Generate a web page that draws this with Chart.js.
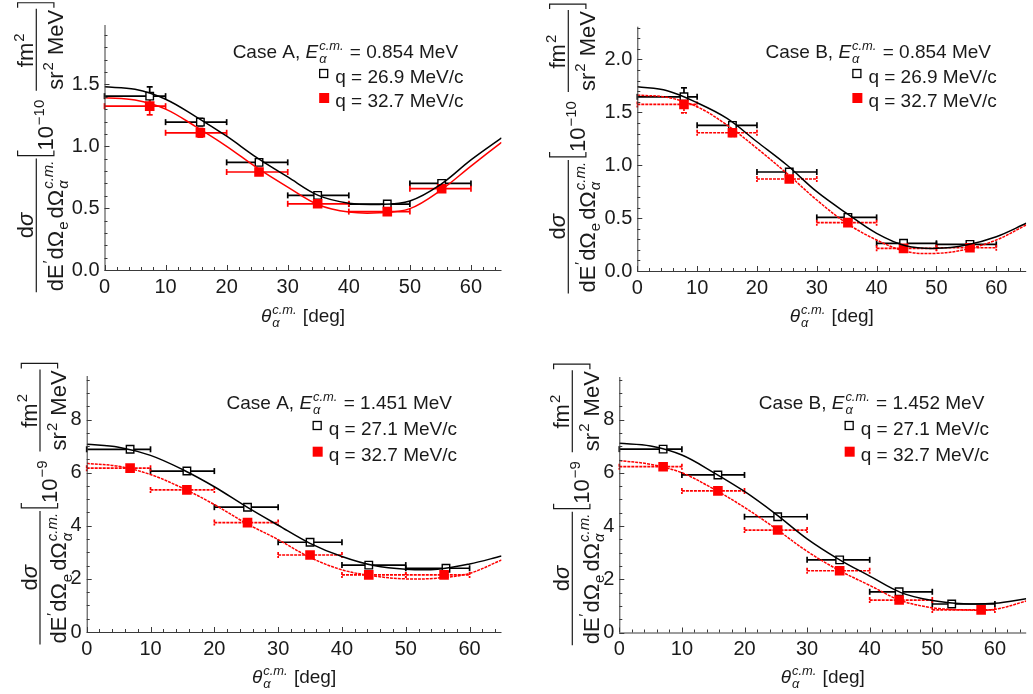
<!DOCTYPE html>
<html>
<head>
<meta charset="utf-8">
<script src="https://cdn.jsdelivr.net/npm/chart.js@4.4.0/dist/chart.umd.min.js"></script>
<style>
html, body { margin: 0; padding: 0; background: #fff; }
#wrap { position: relative; width: 1033px; height: 694px; overflow: hidden; }
canvas { position: absolute; }
</style>
</head>
<body>
<div id="wrap">
  <canvas id="c1" width="516" height="338" style="left:0;top:0"></canvas>
  <canvas id="c2" width="517" height="338" style="left:516px;top:0"></canvas>
  <canvas id="c3" width="516" height="354" style="left:0;top:340px"></canvas>
  <canvas id="c4" width="517" height="354" style="left:516px;top:340px"></canvas>
</div>
<script>
// ---- data ----
const binEdges = [0, 10, 20, 30, 40, 50, 60];
const curveTheta = [0, 5, 10, 15, 20, 25, 30, 35, 40, 45, 50, 55, 60, 65];

// Case A, E = 0.854 MeV  (units 1e-10)
const a854BlackTheta = [7.4, 15.7, 25.3, 34.9, 46.3, 55.2];
const a854BlackVal   = [1.405, 1.195, 0.870, 0.603, 0.533, 0.700];
const a854BlackErr   = [0.075, 0.03, 0.02, 0.02, 0.02, 0.02];
const a854RedTheta   = [7.4, 15.7, 25.3, 34.9, 46.3, 55.2];
const a854RedVal     = [1.324, 1.109, 0.792, 0.535, 0.472, 0.657];
const a854RedErr     = [0.07, 0.035, 0.02, 0.02, 0.02, 0.02];
const a854BlackCurve = [1.48, 1.46, 1.38, 1.238, 1.081, 0.906, 0.752, 0.603, 0.54, 0.53, 0.558, 0.69, 0.89, 1.068];
const a854RedCurve   = [1.392, 1.373, 1.30, 1.157, 1.0, 0.825, 0.67, 0.527, 0.468, 0.462, 0.496, 0.643, 0.84, 1.032];

// Case B, E = 0.854 MeV  (units 1e-10)
const b854BlackTheta = [7.8, 15.9, 25.4, 35.2, 44.5, 55.6];
const b854BlackVal   = [1.647, 1.377, 0.936, 0.507, 0.262, 0.252];
const b854BlackErr   = [0.085, 0.03, 0.02, 0.02, 0.02, 0.02];
const b854RedTheta   = [7.8, 15.9, 25.4, 35.2, 44.5, 55.6];
const b854RedVal     = [1.575, 1.307, 0.870, 0.457, 0.214, 0.220];
const b854RedErr     = [0.08, 0.035, 0.02, 0.02, 0.02, 0.02];
const b854BlackCurve = [1.742, 1.704, 1.591, 1.443, 1.222, 1.002, 0.75, 0.545, 0.356, 0.236, 0.214, 0.246, 0.324, 0.451];
const b854RedCurve   = [1.663, 1.642, 1.553, 1.38, 1.16, 0.923, 0.671, 0.451, 0.293, 0.183, 0.167, 0.205, 0.293, 0.435];

// Case A, E = 1.451 MeV  (units 1e-9)
const a1451BlackTheta = [6.8, 15.7, 25.2, 35.0, 44.2, 56.3];
const a1451BlackVal   = [6.88, 6.06, 4.70, 3.38, 2.52, 2.40];
const a1451BlackErr   = [0.06, 0.06, 0.06, 0.06, 0.06, 0.06];
const a1451RedTheta   = [6.8, 15.7, 25.2, 35.0, 44.2, 56.0];
const a1451RedVal     = [6.17, 5.35, 4.12, 2.90, 2.15, 2.15];
const a1451RedErr     = [0.06, 0.06, 0.06, 0.06, 0.06, 0.06];
const a1451BlackCurve = [7.07, 6.96, 6.65, 6.12, 5.47, 4.72, 4.02, 3.34, 2.84, 2.50, 2.36, 2.36, 2.56, 2.86];
const a1451RedCurve   = [6.35, 6.24, 5.93, 5.42, 4.80, 4.09, 3.48, 2.81, 2.34, 2.11, 2.0, 2.03, 2.21, 2.71];

// Case B, E = 1.452 MeV  (units 1e-9)
const b1452BlackTheta = [7.0, 15.75, 25.3, 35.2, 44.7, 53.1];
const b1452BlackVal   = [6.89, 5.92, 4.35, 2.73, 1.53, 1.07];
const b1452BlackErr   = [0.06, 0.06, 0.06, 0.06, 0.06, 0.06];
const b1452RedTheta   = [7.0, 15.75, 25.3, 35.2, 44.7, 57.8];
const b1452RedVal     = [6.23, 5.32, 3.85, 2.32, 1.22, 0.85];
const b1452RedErr     = [0.06, 0.06, 0.06, 0.06, 0.06, 0.06];
const b1452BlackCurve = [7.11, 7.01, 6.67, 6.02, 5.30, 4.45, 3.52, 2.76, 2.12, 1.50, 1.20, 1.08, 1.10, 1.27];
const b1452RedCurve   = [6.46, 6.32, 6.0, 5.40, 4.70, 3.90, 3.05, 2.35, 1.77, 1.20, 0.93, 0.85, 0.87, 1.18];

const caseNames  = ['Case A', 'Case B', 'Case A', 'Case B'];
const energies   = ['0.854', '0.854', '1.451', '1.452'];
const qBlack     = ['26.9', '26.9', '27.1', '27.1'];
const qRed       = ['32.7', '32.7', '32.7', '32.7'];
const exponents  = ['10', '10', '9', '9'];

// ---- drawing helpers ----
const FONT = "'Liberation Sans', Arial, sans-serif";
const TEXT = '#1a1a1a';
const RED = '#ff0000';

// draws a row of rich text parts, returns its width
function rich(ctx, parts, x, y, s, draw) {
    let cx = x;
    for (const p of parts) {
        if (typeof p === 'string' || p.t) {
            const t = typeof p === 'string' ? p : p.t;
            ctx.font = (p.it ? 'italic ' : '') + s + 'px ' + FONT;
            if (draw) ctx.fillText(t, cx, y);
            cx += ctx.measureText(t).width;
        } else if (p.gap) {
            cx += p.gap;
        } else {
            const ss = s * 0.68;
            let w = 0;
            if (p.sup) {
                ctx.font = (p.supIt ? 'italic ' : '') + ss + 'px ' + FONT;
                if (draw) ctx.fillText(p.sup, cx + 1, y - s * 0.42);
                w = Math.max(w, ctx.measureText(p.sup).width);
            }
            if (p.sub) {
                ctx.font = (p.subIt ? 'italic ' : '') + ss + 'px ' + FONT;
                if (draw) ctx.fillText(p.sub, cx + 1, y + s * 0.24);
                w = Math.max(w, ctx.measureText(p.sub).width);
            }
            cx += w + 2;
        }
    }
    return cx - x;
}

function seg(ctx, x1, y1, x2, y2) {
    ctx.beginPath();
    ctx.moveTo(x1, y1);
    ctx.lineTo(x2, y2);
    ctx.stroke();
}

function drawYTitle(ctx, area, p) {
    const s = 22;
    const num = ['d', { t: 'σ', it: 1 }];
    const den = ['dE', { sup: '′' }, 'dΩ', { sub: 'e' }, { gap: 2 }, 'dΩ', { sub: 'α', subIt: 1, sup: 'c.m.', supIt: 1 }];
    const pow = ['10', { sup: '−' + p.exp }];
    const un = ['fm', { sup: '2' }];
    const ud = ['sr', { sup: '2' }, ' MeV'];
    const wn = rich(ctx, num, 0, 0, s, false), wd = rich(ctx, den, 0, 0, s, false);
    const wun = rich(ctx, un, 0, 0, s, false), wud = rich(ctx, ud, 0, 0, s, false);
    const wp = rich(ctx, pow, 0, 0, s, false);
    const f1 = Math.max(wn, wd) + 2;
    const f2 = Math.max(wun, wud) + 2;
    const total = f1 + 3 + 5 + wp + 8 + f2 + 1 + 5;
    const cy = (area.top + area.bottom) / 2;

    ctx.save();
    ctx.translate(p.ytX, cy + total / 2);
    ctx.rotate(-Math.PI / 2);
    ctx.fillStyle = TEXT;
    ctx.strokeStyle = TEXT;
    ctx.lineWidth = 1.2;
    const vb = 0.15 * s, vd = 1.35 * s, bt = -0.7 * s, bb = 0.95 * s;
    let u = 0;
    rich(ctx, num, u + (f1 - wn) / 2, 0, s, true);
    rich(ctx, den, u + (f1 - wd) / 2, vd, s, true);
    seg(ctx, u, vb, u + f1, vb);
    u += f1 + 3;
    ctx.beginPath();
    ctx.moveTo(u + 5, bt); ctx.lineTo(u, bt); ctx.lineTo(u, bb); ctx.lineTo(u + 5, bb);
    ctx.stroke();
    u += 5;
    rich(ctx, pow, u, 0.9 * s, s, true);
    u += wp + 8;
    rich(ctx, un, u + (f2 - wun) / 2, 0, s, true);
    rich(ctx, ud, u + (f2 - wud) / 2, vd, s, true);
    seg(ctx, u, vb, u + f2, vb);
    u += f2 + 1;
    ctx.beginPath();
    ctx.moveTo(u, bt); ctx.lineTo(u + 5, bt); ctx.lineTo(u + 5, bb); ctx.lineTo(u, bb);
    ctx.stroke();
    ctx.restore();
}

function panelPlugin(p) {
    return {
        id: 'panelDecor',
        beforeDatasetsDraw(chart) {
            const ctx = chart.ctx, xs = chart.scales.x, ys = chart.scales.y;
            ctx.save();
            ctx.lineWidth = 1.7;
            for (const set of [p.black, p.red]) {
                ctx.strokeStyle = set.color;
                ctx.setLineDash(set === p.red && p.redDash ? [3, 1] : []);
                set.theta.forEach((t, i) => {
                    const y = ys.getPixelForValue(set.val[i]);
                    const xl = xs.getPixelForValue(binEdges[i]);
                    const xr = xs.getPixelForValue(binEdges[i + 1]);
                    seg(ctx, xl, y, xr, y);
                    seg(ctx, xl, y - 3, xl, y + 3);
                    seg(ctx, xr, y - 3, xr, y + 3);
                    const x = xs.getPixelForValue(t);
                    const yt = ys.getPixelForValue(set.val[i] + set.err[i]);
                    const yb = ys.getPixelForValue(set.val[i] - set.err[i]);
                    seg(ctx, x, yt, x, yb);
                    seg(ctx, x - 3, yt, x + 3, yt);
                    seg(ctx, x - 3, yb, x + 3, yb);
                });
            }
            ctx.restore();
        },
        afterDraw(chart) {
            const ctx = chart.ctx, xs = chart.scales.x, ys = chart.scales.y, a = chart.chartArea;
            ctx.save();
            // axes with inward ticks
            ctx.strokeStyle = '#3a3a3a';
            ctx.lineWidth = 1;
            seg(ctx, a.left, a.bottom + 0.5, a.right, a.bottom + 0.5);
            seg(ctx, a.left + 0.5, a.top, a.left + 0.5, a.bottom);
            for (let d = 0; d <= 65; d += 2) {
                const x = Math.round(xs.getPixelForValue(d)) + 0.5;
                seg(ctx, x, a.bottom, x, a.bottom - (d % 10 === 0 ? 5 : 3));
            }
            const nMinor = Math.floor(p.yMax / p.yMinor + 1e-6);
            const ratio = Math.round(p.yStep / p.yMinor);
            for (let k = 0; k <= nMinor; k++) {
                const y = Math.round(ys.getPixelForValue(k * p.yMinor)) + 0.5;
                seg(ctx, a.left, y, a.left + (k % ratio === 0 ? 5 : 3), y);
            }

            // x title
            ctx.fillStyle = TEXT;
            ctx.textBaseline = 'alphabetic';
            const xt = [{ t: 'θ', it: 1 }, { sub: 'α', subIt: 1, sup: 'c.m.', supIt: 1 }, ' [deg]'];
            const wx = rich(ctx, xt, 0, 0, 19, false);
            rich(ctx, xt, (a.left + a.right) / 2 - wx / 2, p.titleY, 19, true);

            drawYTitle(ctx, a, p);

            // legend
            const l1 = [caseNames[p.i] + ', ', { t: 'E', it: 1 }, { sub: 'α', subIt: 1, sup: 'c.m.', supIt: 1 }, ' = ' + energies[p.i] + ' MeV'];
            const w1 = rich(ctx, l1, 0, 0, 19, false);
            rich(ctx, l1, a.left + p.r1 - w1, p.lb[0], 19, true);
            const l2 = ['q = ' + qBlack[p.i] + ' MeV/c'];
            const l3 = ['q = ' + qRed[p.i] + ' MeV/c'];
            const w2 = Math.max(rich(ctx, l2, 0, 0, 19, false), rich(ctx, l3, 0, 0, 19, false));
            const tx = a.left + p.r2 - w2;
            rich(ctx, l2, tx, p.lb[1], 19, true);
            rich(ctx, l3, tx, p.lb[2], 19, true);
            ctx.strokeStyle = '#000';
            ctx.lineWidth = 1.3;
            ctx.fillStyle = '#fff';
            ctx.fillRect(tx - 15.5, p.lb[1] - 13.5, 8, 8);
            ctx.strokeRect(tx - 15.5, p.lb[1] - 13.5, 8, 8);
            ctx.fillStyle = RED;
            ctx.fillRect(tx - 16, p.lb[2] - 14, 10, 10);
            ctx.restore();
        }
    };
}

function buildPanel(p) {
    const canvas = document.getElementById(p.id);
    const W = canvas.width, H = canvas.height, A = p.area;
    const pts = (xs, ys) => xs.map((x, i) => ({ x: x, y: ys[i] }));
    const tickFont = { family: FONT, size: 20 };
    new Chart(canvas.getContext('2d'), {
        type: 'scatter',
        data: {
            datasets: [
                {
                    label: 'curve black', data: pts(curveTheta, p.black.curve), showLine: true,
                    borderColor: '#000', borderWidth: 1.5, pointRadius: 0,
                    tension: 0.35, order: 1
                },
                {
                    label: 'curve red', data: pts(curveTheta, p.red.curve), showLine: true,
                    borderColor: RED, borderWidth: 1.5, pointRadius: 0,
                    borderDash: p.redDash ? [3, 1] : [],
                    tension: 0.35, order: 0
                },
                {
                    label: 'q black', data: pts(p.black.theta, p.black.val), pointStyle: 'rect',
                    pointRadius: 5.3, backgroundColor: '#fff', borderColor: '#000', borderWidth: 1.4, order: 3
                },
                {
                    label: 'q red', data: pts(p.red.theta, p.red.val), pointStyle: 'rect',
                    pointRadius: 6.8, backgroundColor: RED, borderColor: RED, borderWidth: 0, order: 2
                }
            ]
        },
        options: {
            responsive: false,
            animation: false,
            events: [],
            layout: { padding: { left: 0, top: A.top, right: W - A.right, bottom: 0 } },
            plugins: { legend: { display: false }, tooltip: { enabled: false } },
            scales: {
                x: {
                    type: 'linear', min: 0, max: 65,
                    border: { display: false },
                    grid: { display: false, drawTicks: false },
                    ticks: { stepSize: 10, includeBounds: false, font: tickFont, color: TEXT, padding: 5, maxRotation: 0 },
                    afterFit(s) { s.height = H - A.bottom; }
                },
                y: {
                    type: 'linear', min: 0, max: p.yMax,
                    border: { display: false },
                    grid: { display: false, drawTicks: false },
                    ticks: {
                        stepSize: p.yStep, includeBounds: false, font: tickFont, color: TEXT, padding: 5,
                        callback: v => v.toFixed(p.yDec)
                    },
                    afterFit(s) { s.width = A.left; }
                }
            }
        },
        plugins: [panelPlugin(p)]
    });
}

const panels = [
    {
        i: 0, id: 'c1', area: { left: 104.5, top: 25, right: 501.5, bottom: 270 },
        yMax: 1.98, yStep: 0.5, yMinor: 0.1, yDec: 1, exp: exponents[0], ytX: 33, titleY: 322,
        r1: 353.6, r2: 359, lb: [58, 83, 107], redDash: false,
        black: { theta: a854BlackTheta, val: a854BlackVal, err: a854BlackErr, curve: a854BlackCurve, color: '#000' },
        red: { theta: a854RedTheta, val: a854RedVal, err: a854RedErr, curve: a854RedCurve, color: RED }
    },
    {
        i: 1, id: 'c2', area: { left: 121.3, top: 26.7, right: 517, bottom: 271 },
        yMax: 2.31, yStep: 0.5, yMinor: 0.1, yDec: 1, exp: exponents[1], ytX: 49, titleY: 322,
        r1: 353.7, r2: 359.4, lb: [58, 83, 107], redDash: true,
        black: { theta: b854BlackTheta, val: b854BlackVal, err: b854BlackErr, curve: b854BlackCurve, color: '#000' },
        red: { theta: b854RedTheta, val: b854RedVal, err: b854RedErr, curve: b854RedCurve, color: RED }
    },
    {
        i: 2, id: 'c3', area: { left: 86.7, top: 36, right: 501.5, bottom: 292 },
        yMax: 9.64, yStep: 2, yMinor: 0.5, yDec: 0, exp: exponents[2], ytX: 36.7, titleY: 343,
        r1: 365.3, r2: 370.3, lb: [69, 95, 120.7], redDash: true,
        black: { theta: a1451BlackTheta, val: a1451BlackVal, err: a1451BlackErr, curve: a1451BlackCurve, color: '#000' },
        red: { theta: a1451RedTheta, val: a1451RedVal, err: a1451RedErr, curve: a1451RedCurve, color: RED }
    },
    {
        i: 3, id: 'c4', area: { left: 103.3, top: 37, right: 517, bottom: 292.5 },
        yMax: 9.6, yStep: 2, yMinor: 0.5, yDec: 0, exp: exponents[3], ytX: 53, titleY: 343,
        r1: 365, r2: 369.7, lb: [69, 95, 120.7], redDash: true,
        black: { theta: b1452BlackTheta, val: b1452BlackVal, err: b1452BlackErr, curve: b1452BlackCurve, color: '#000' },
        red: { theta: b1452RedTheta, val: b1452RedVal, err: b1452RedErr, curve: b1452RedCurve, color: RED }
    }
];

panels.forEach(buildPanel);
</script>
</body>
</html>
